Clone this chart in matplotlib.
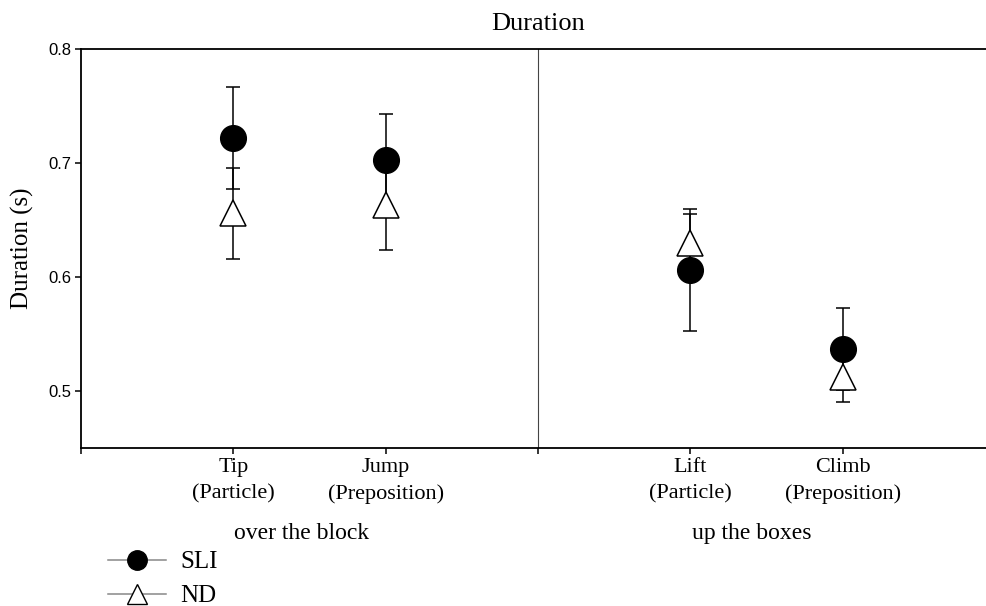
import matplotlib
matplotlib.use("Agg")
import matplotlib.pyplot as plt
from matplotlib.lines import Line2D

# data
verbs = ["Tip\n(Particle)", "Jump\n(Preposition)", "Lift\n(Particle)", "Climb\n(Preposition)"]
verb_pos = [1, 2, 4, 5]
groups = ["over the block", "up the boxes"]
group_pos = [1.45, 4.4]

sli_mean = [0.722, 0.703, 0.606, 0.537]
sli_err = [0.045, 0.040, 0.0535, 0.036]
nd_mean = [0.656, 0.663, 0.630, 0.5127]
nd_err = [0.040, 0.039, 0.0255, 0.0225]

serif = "Liberation Serif"
sans = "Liberation Sans"

fig = plt.figure(figsize=(9.86, 6.06), dpi=100)
ax = fig.add_axes([81 / 986, 158 / 606, 914 / 986, 399 / 606])

# error bars first, markers on top
ax.errorbar(verb_pos, sli_mean, yerr=sli_err, fmt="none", ecolor="black",
            elinewidth=1.1, capsize=4.7, capthick=1.1, zorder=2)
ax.errorbar(verb_pos, nd_mean, yerr=nd_err, fmt="none", ecolor="black",
            elinewidth=1.1, capsize=4.7, capthick=1.1, zorder=2)
ax.plot(verb_pos, sli_mean, "o", ms=18.5, mfc="black", mec="black", zorder=3)
ax.plot(verb_pos, nd_mean, "^", ms=19, mfc="white", mec="black", mew=1.1, zorder=4)

ax.axvline(3, color="#444444", lw=0.8, zorder=1)

ax.set_xlim(0, 6)
ax.set_ylim(0.45, 0.8)
ax.set_xticks([0, 1, 2, 3, 4, 5])
ax.set_xticklabels([""] + verbs[:2] + [""] + verbs[2:], fontfamily=serif, fontsize=16,
                   linespacing=1.5)
ax.set_yticks([0.5, 0.6, 0.7, 0.8])
ax.set_yticklabels(["0.5", "0.6", "0.7", "0.8"], fontfamily=sans, fontsize=12)
ax.tick_params(axis="both", direction="out", length=4, width=1.1, pad=3)

for s in ["left", "bottom", "top"]:
    ax.spines[s].set_linewidth(1.3)
ax.spines["right"].set_visible(False)

for g, gx in zip(groups, group_pos):
    ax.text(gx, -0.215, g, transform=ax.get_xaxis_transform(), ha="center", va="center",
            fontfamily=serif, fontsize=17)

ax.set_title("Duration", fontfamily=serif, fontsize=19, pad=14)
ax.set_ylabel("Duration (s)", fontfamily=serif, fontsize=18, labelpad=10)

handles = [
    Line2D([], [], color="#888888", lw=1.1, marker="o", ms=14, mfc="black", mec="black"),
    Line2D([], [], color="#888888", lw=1.1, marker="^", ms=14, mfc="white", mec="black", mew=1.0),
]
fig.legend(handles, ["SLI", "ND"], loc="upper left", bbox_to_anchor=(108 / 986, 1 - 551 / 606),
           frameon=False, prop={"family": serif, "size": 18}, handlelength=2.3,
           handletextpad=0.6, labelspacing=0.45, borderpad=0, borderaxespad=0)

fig.savefig("out.png", dpi=100)
